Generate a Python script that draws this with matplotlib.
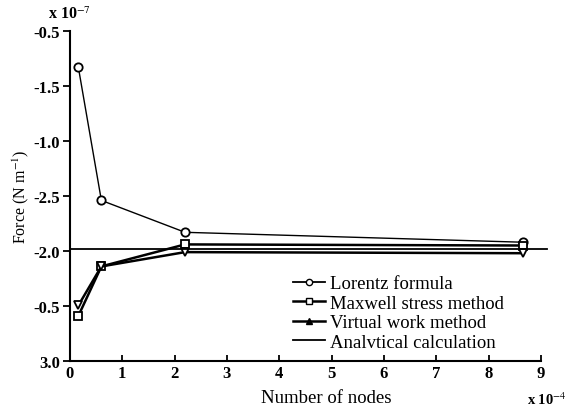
import matplotlib
matplotlib.use('Agg')
import matplotlib.pyplot as plt
from matplotlib.lines import Line2D

plt.rcParams['font.family'] = ['Liberation Serif', 'DejaVu Serif']
plt.rcParams['mathtext.fontset'] = 'stix'

# node counts (x 10^4) and forces (axis units as printed)
nodes = [0.16, 0.6, 2.2, 8.65]
lorentz = [-0.83, -2.04, -2.33, -2.42]
maxwell = [-3.09, -2.64, -2.44, -2.45]
virtual = [-2.995, -2.64, -2.51, -2.52]
analytical_x = [0, 9.12]
analytical_y = [-2.48, -2.48]

ytick_pos = [-0.5, -1.0, -1.5, -2.0, -2.5, -3.0, -3.5]
ytick_lab = ['-0.5', '-1.5', '-1.0', '-2.5', '-2.0', '-0.5', '3.0']
xtick_pos = list(range(0, 10))

fig = plt.figure(figsize=(5.68, 4.10), dpi=100)
ax = fig.add_axes([0.1232, 0.117, 0.829, 0.805])

ax.plot(nodes, lorentz, '-o', color='black', lw=1.0, ms=6, mfc='white', mew=1.3)
ax.plot(nodes, maxwell, '-s', color='black', lw=1.8, ms=6, mfc='white', mew=1.3)
ax.plot(nodes, virtual, '-v', color='black', lw=1.8, ms=6, mfc='white', mew=1.3)
ax.plot(analytical_x, analytical_y, '-', color='black', lw=1.3, clip_on=False)

ax.set_xlim(0, 9)
ax.set_ylim(-3.5, -0.5)
ax.set_xticks(xtick_pos)
ax.set_xticklabels([str(t) for t in xtick_pos], fontsize=12, fontweight='bold')
ax.set_yticks(ytick_pos)
ax.set_yticklabels(ytick_lab, fontsize=12, fontweight='bold')
ax.tick_params(axis='x', direction='in', length=4, width=1.3, pad=3)
ax.tick_params(axis='y', direction='out', length=5, width=1.3, pad=2)
for s in ['top', 'right']:
    ax.spines[s].set_visible(False)
for s in ['left', 'bottom']:
    ax.spines[s].set_linewidth(1.5)

ax.set_xlabel('Number of nodes', fontsize=13.5)
ax.xaxis.set_label_coords(0.5435, -0.085)
ax.set_ylabel('Force (N m$^{-1}$)', fontsize=11.5, labelpad=2)

ax.text(-0.047, 1.052, r'x 10$^{-7}$', transform=ax.transAxes, fontsize=11.5,
        fontweight='bold', va='center', ha='left')
ax.text((527 - 70) / 471, -0.115, r'x 10$^{-4}$', transform=ax.transAxes,
        fontsize=10.5, fontweight='bold', va='center', ha='left')

handles = [
    Line2D([], [], color='black', lw=1.3, marker='o', ms=4.5, mfc='white'),
    Line2D([], [], color='black', lw=1.8, marker='s', ms=4.5, mfc='white'),
    Line2D([], [], color='black', lw=1.8, marker='^', ms=4.5, mfc='black'),
    Line2D([], [], color='black', lw=1.3),
]
labels = ['Lorentz formula', 'Maxwell stress method', 'Virtual work method',
          'Analvtical calculation']
ax.legend(handles, labels, frameon=False, fontsize=13.5, handlelength=1.7,
          handletextpad=0.27, labelspacing=0.13, borderaxespad=0, borderpad=0,
          loc='upper left', bbox_to_anchor=((293 - 70) / 471, (362 - 276) / 330))

fig.savefig('out.png', dpi=100)
